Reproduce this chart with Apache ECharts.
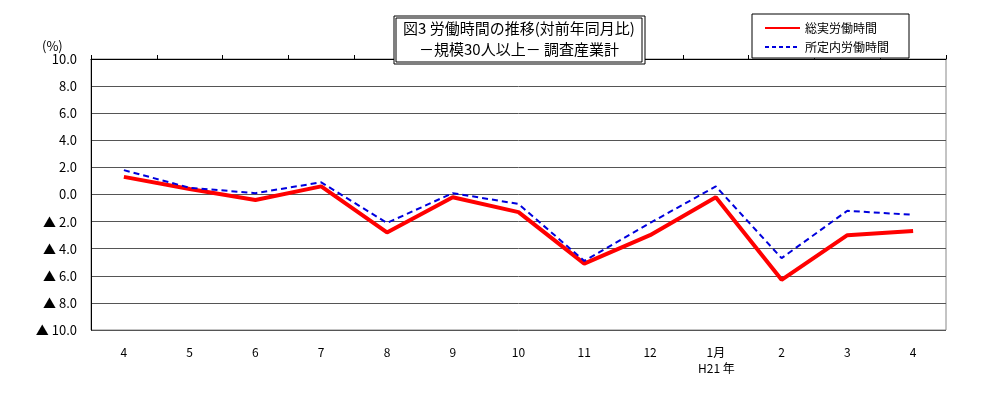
<!DOCTYPE html>
<html><head><meta charset="utf-8">
<script src="https://cdn.jsdelivr.net/npm/echarts@6/dist/echarts.min.js"></script>
<style>html,body{margin:0;padding:0;background:#fff}#c{width:1001px;height:407px}</style>
</head><body><div id="c"></div>
<script>
const categories = ['4','5','6','7','8','9','10','11','12','1月','2','3','4'];
const totalHours = [1.3, 0.4, -0.4, 0.6, -2.8, -0.2, -1.3, -5.1, -3.0, -0.2, -6.3, -3.0, -2.7];
const scheduledHours = [1.8, 0.5, 0.1, 0.9, -2.1, 0.1, -0.7, -4.9, -2.1, 0.6, -4.7, -1.2, -1.5];
const seriesNames = ['総実労働時間', '所定内労働時間'];
const titleLines = ['図3 労働時間の推移(対前年同月比)', '－規模30人以上－ 調査産業計'];
const yearLabel = 'H21 年';
const unitLabel = '(%)';

const FONT = '"Noto Sans CJK JP", sans-serif';
const chart = echarts.init(document.getElementById('c'));
chart.setOption({
  animation: false,
  backgroundColor: '#fff',
  grid: { left: 91, right: 55, top: 59, bottom: 77, show: true, borderColor: '#888', borderWidth: 1 },
  legend: {
    orient: 'vertical', left: 752, top: 14,
    padding: [8, 20, 5, 12],
    itemGap: 7, itemWidth: 35, itemHeight: 14,
    borderColor: '#000', borderWidth: 1, backgroundColor: '#fff',
    textStyle: { fontFamily: FONT, fontSize: 12, color: '#000' },
    data: [
      { name: seriesNames[0], lineStyle: { width: 2 }, itemStyle: { opacity: 0 } },
      { name: seriesNames[1], lineStyle: { width: 2, type: [4, 3] }, itemStyle: { opacity: 0 } }
    ]
  },
  xAxis: [
    {
      type: 'category', data: categories, position: 'bottom',
      axisLine: { show: false }, axisTick: { show: false },
      axisLabel: { fontFamily: FONT, fontSize: 12, color: '#000', margin: 16 }
    },
    {
      type: 'category', data: categories, position: 'top',
      axisLine: { show: true, onZero: true, lineStyle: { color: '#000', width: 1 } },
      axisTick: { show: true, inside: false, length: 4, lineStyle: { color: '#000' } },
      axisLabel: { show: false }
    }
  ],
  yAxis: {
    type: 'value', min: -10, max: 10, interval: 2,
    axisLine: { show: true, lineStyle: { color: '#000' } },
    axisTick: { show: false },
    splitLine: { lineStyle: { color: '#555', width: 1 } },
    axisLabel: {
      fontFamily: FONT, fontSize: 13, color: '#000', margin: 14,
      formatter: v => v < 0 ? '▲ ' + Math.abs(v).toFixed(1) : v.toFixed(1)
    }
  },
  graphic: [
    { type: 'rect', shape: { x: 394, y: 16, width: 251, height: 48 }, style: { fill: '#fff', stroke: '#000', lineWidth: 1 }, z: 10 },
    { type: 'rect', shape: { x: 396, y: 18, width: 246, height: 44 }, style: { fill: 'none', stroke: '#000', lineWidth: 1 }, z: 11 },
    { type: 'text', x: 519, y: 18, z: 12, style: { text: titleLines.join('\n'), font: '15px ' + FONT, fill: '#000', align: 'center', lineHeight: 21 } },
    { type: 'text', left: 42, top: 40, style: { text: unitLabel, font: '13px ' + FONT, fill: '#000' } },
    { type: 'text', left: 698, top: 362, style: { text: yearLabel, font: '12px ' + FONT, fill: '#000' } }
  ],
  series: [
    {
      name: seriesNames[0], type: 'line', data: totalHours, symbol: 'none', xAxisIndex: 0,
      lineStyle: { color: '#ff0000', width: 4 }, itemStyle: { color: '#ff0000' }
    },
    {
      name: seriesNames[1], type: 'line', data: scheduledHours, symbol: 'none', xAxisIndex: 0,
      lineStyle: { color: '#0000dd', width: 2, type: [6, 4] }, itemStyle: { color: '#0000dd' }
    }
  ]
});
</script></body></html>
